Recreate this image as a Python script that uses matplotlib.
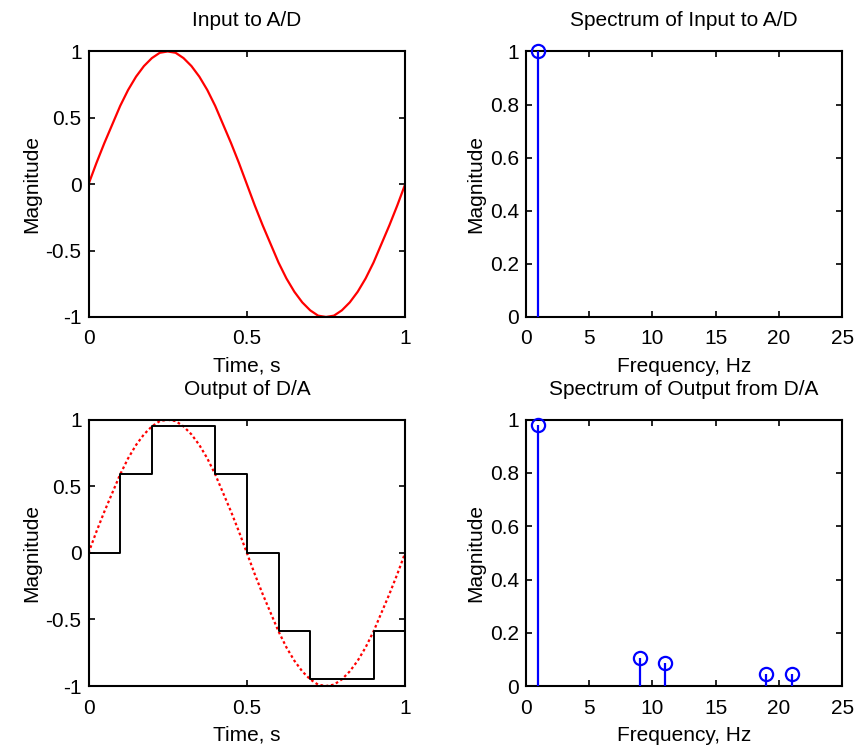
import numpy as np
import matplotlib
matplotlib.use("Agg")
import matplotlib.pyplot as plt

plt.rcParams['font.family'] = ['Liberation Sans', 'DejaVu Sans']
plt.rcParams['font.size'] = 15

# Continuous 1 Hz input (one period, sampled every 0.025 s)
sine_vals = [0.00, 0.16, 0.31, 0.45, 0.59, 0.71, 0.81, 0.89, 0.95, 0.99,
             1.00, 0.99, 0.95, 0.89, 0.81, 0.71, 0.59, 0.45, 0.31, 0.16,
             0.00, -0.16, -0.31, -0.45, -0.59, -0.71, -0.81, -0.89, -0.95, -0.99,
             -1.00, -0.99, -0.95, -0.89, -0.81, -0.71, -0.59, -0.45, -0.31, -0.16,
             0.00]
sine_t = np.linspace(0, 1, len(sine_vals))

# Zero-order-hold output of the D/A (10 Hz sampling)
sample_t = [0.0, 0.1, 0.2, 0.3, 0.4, 0.5, 0.6, 0.7, 0.8, 0.9, 1.0]
held_vals = [0.0, 0.59, 0.95, 0.95, 0.59, 0.0, -0.59, -0.95, -0.95, -0.59]

# Spectra
in_freq = [1]
in_mag = [1.0]
out_freq = [1, 9, 11, 19, 21]
out_mag = [0.98, 0.105, 0.085, 0.045, 0.045]

time_ticks = [0, 0.5, 1]
time_ticklabels = ['0', '0.5', '1']
amp_ticks = [-1, -0.5, 0, 0.5, 1]
amp_ticklabels = ['-1', '-0.5', '0', '0.5', '1']
freq_ticks = [0, 5, 10, 15, 20, 25]
mag_ticks = [0, 0.2, 0.4, 0.6, 0.8, 1]
mag_ticklabels = ['0', '0.2', '0.4', '0.6', '0.8', '1']

fig = plt.figure(figsize=(8.57, 7.49), dpi=100)

left_x, right_x, width = 0.1033, 0.6135, 0.3695
top_y, top_h = 0.5768, 0.3545
bot_y, bot_h = 0.0841, 0.3555

ax1 = fig.add_axes([left_x, top_y, width, top_h])
ax2 = fig.add_axes([right_x, top_y, width, top_h])
ax3 = fig.add_axes([left_x, bot_y, width, bot_h])
ax4 = fig.add_axes([right_x, bot_y, width, bot_h])


def style(ax):
    for s in ax.spines.values():
        s.set_linewidth(1.5)
    ax.tick_params(direction='in', top=True, right=True, length=4,
                   width=1.2, labelsize=15)
    ax.tick_params(axis='x', pad=9)
    ax.tick_params(axis='y', pad=5)


def stem(ax, f, m):
    ax.vlines(f, 0, m, color='#0000ff', linewidth=1.6, zorder=3)
    ax.plot(f, m, 'o', mfc='none', mec='#0000ff', ms=9.5, mew=1.6,
            clip_on=False, zorder=4)


def labels(ax, title, xlabel):
    ax.set_title(title, fontsize=15, pad=18)
    ax.set_xlabel(xlabel, labelpad=6)
    ax.set_ylabel('Magnitude', labelpad=3)


# Input to A/D
ax1.plot(sine_t, sine_vals, color='#ff0000', linewidth=1.6)
ax1.set_xlim(0, 1)
ax1.set_ylim(-1, 1)
ax1.set_xticks(time_ticks, time_ticklabels)
ax1.set_yticks(amp_ticks, amp_ticklabels)
labels(ax1, 'Input to A/D', 'Time, s')
style(ax1)

# Spectrum of input
stem(ax2, in_freq, in_mag)
ax2.set_xlim(0, 25)
ax2.set_ylim(0, 1)
ax2.set_xticks(freq_ticks)
ax2.set_yticks(mag_ticks, mag_ticklabels)
labels(ax2, 'Spectrum of Input to A/D', 'Frequency, Hz')
style(ax2)

# Output of D/A
ax3.plot(sine_t, sine_vals, color='#ff0000', linestyle=(0, (1.2, 1.2)),
         linewidth=1.6)
ax3.step(sample_t, held_vals + [held_vals[-1]], where='post', color='black',
         linewidth=1.4)
ax3.set_xlim(0, 1)
ax3.set_ylim(-1, 1)
ax3.set_xticks(time_ticks, time_ticklabels)
ax3.set_yticks(amp_ticks, amp_ticklabels)
labels(ax3, 'Output of D/A', 'Time, s')
style(ax3)

# Spectrum of output
stem(ax4, out_freq, out_mag)
ax4.set_xlim(0, 25)
ax4.set_ylim(0, 1)
ax4.set_xticks(freq_ticks)
ax4.set_yticks(mag_ticks, mag_ticklabels)
labels(ax4, 'Spectrum of Output from D/A', 'Frequency, Hz')
style(ax4)

fig.savefig('out.png', dpi=100, facecolor='white')
